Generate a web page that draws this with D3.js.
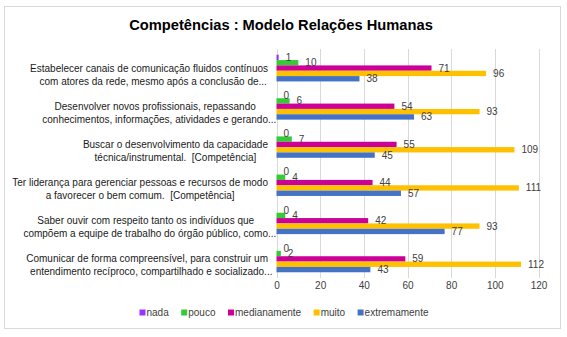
<!DOCTYPE html>
<html>
<head>
<meta charset="utf-8">
<script src="https://cdn.jsdelivr.net/npm/d3@7"></script>
<style>
  html, body { margin: 0; padding: 0; background: #fff; }
  svg { display: block; font-family: "Liberation Sans", Arial, sans-serif; }
  svg text { white-space: pre; }
</style>
</head>
<body>
<svg id="chart" width="567" height="337"></svg>
<script>
// ---- data ----
const categories = [
  ["Estabelecer canais de comunicação fluidos contínuos", "com atores da rede, mesmo após a conclusão de..."],
  ["Desenvolver novos profissionais, repassando", "conhecimentos, informações, atividades e gerando..."],
  ["Buscar o desenvolvimento da capacidade", "técnica/instrumental.  [Competência]"],
  ["Ter liderança para gerenciar pessoas e recursos de modo", "a favorecer o bem comum.  [Competência]"],
  ["Saber ouvir com respeito tanto os indivíduos que", "compõem a equipe de trabalho do órgão público, como..."],
  ["Comunicar de forma compreensível, para construir um", "entendimento recíproco, compartilhado e socializado..."]
];
const seriesNames = ["nada", "pouco", "medianamente", "muito", "extremamente"];
const nada         = [1, 0, 0, 0, 0, 0];
const pouco        = [10, 6, 7, 4, 4, 2];
const medianamente = [71, 54, 55, 44, 42, 59];
const muito        = [96, 93, 109, 111, 93, 112];
const extremamente = [38, 63, 45, 57, 77, 43];
const tickValues   = [0, 20, 40, 60, 80, 100, 120];
const title = "Competências : Modelo Relações Humanas";

const seriesValues = [nada, pouco, medianamente, muito, extremamente];
const colors = ["#9933FF", "#33CC33", "#CC0099", "#FFC000", "#4472C4"];

// ---- layout ----
const svg = d3.select("#chart");
svg.append("rect").attr("x", 4.5).attr("y", 6.5).attr("width", 556).attr("height", 322)
  .attr("fill", "#fff").attr("stroke", "#d9d9d9");

svg.append("text").attr("x", 281).attr("y", 30).attr("text-anchor", "middle")
  .attr("font-size", "14.7px").attr("font-weight", "bold").attr("fill", "#000")
  .text(title);

const x = d3.scaleLinear().domain([0, 120]).range([276.5, 538.5]);
const idx = d3.range(categories.length);
const y = d3.scaleBand().domain(idx).range([49, 278]).paddingInner(0.3).paddingOuter(0.15);
const ys = d3.scaleBand().domain(seriesNames).range([0, y.bandwidth()]);

// gridlines
svg.append("g").selectAll("line").data(tickValues).join("line")
  .attr("x1", d => Math.round(x(d)) + 0.5).attr("x2", d => Math.round(x(d)) + 0.5)
  .attr("y1", 49).attr("y2", 278)
  .attr("stroke", "#d9d9d9");

// axis
const axis = svg.append("g").attr("transform", "translate(0,282)")
  .call(d3.axisBottom(x).tickValues(tickValues).tickSize(0).tickPadding(0));
axis.select(".domain").remove();
axis.selectAll("text").attr("font-size", "10px").attr("fill", "#404040")
  .attr("font-family", "Liberation Sans, Arial, sans-serif").attr("dy", "0.71em");

// bars
const groups = svg.append("g").selectAll("g").data(idx).join("g")
  .attr("transform", i => `translate(0,${y(i)})`);
seriesNames.forEach((s, si) => {
  groups.append("rect")
    .attr("x", x(0))
    .attr("y", ys(s))
    .attr("width", i => x(seriesValues[si][i]) - x(0))
    .attr("height", ys.bandwidth())
    .attr("fill", colors[si]);
});
seriesNames.forEach((s, si) => {
  groups.append("text")
    .attr("x", i => x(seriesValues[si][i]) + 7)
    .attr("y", ys(s) + ys.bandwidth() / 2)
    .attr("dy", "0.35em")
    .attr("font-size", "10px").attr("fill", "#404040")
    .text(i => seriesValues[si][i]);
});

// category labels
const R = 268;
const lab = svg.append("g");
categories.forEach((lines, i) => {
  const c = y(i) + y.bandwidth() / 2;
  const tmp = lines.map(t => {
    const n = lab.append("text").attr("font-size", "10px").text(t.replace(/\.\.\.$/, ""));
    const w = n.node().getComputedTextLength();
    n.remove();
    return w;
  });
  const maxW = d3.max(tmp);
  const bc = R - maxW / 2;
  lines.forEach((t, li) => {
    lab.append("text")
      .attr("x", bc - tmp[li] / 2)
      .attr("y", c + li * 13)
      .attr("dy", "0.35em")
      .attr("font-size", "10px").attr("fill", "#1a1a1a")
      .text(t);
  });
});

// legend
const leg = svg.append("g");
let lx = 0;
seriesNames.forEach((s, si) => {
  const g = leg.append("g").attr("transform", `translate(${lx},0)`);
  g.append("rect").attr("x", 0).attr("y", -3).attr("width", 6).attr("height", 6).attr("fill", colors[si]);
  const t = g.append("text").attr("x", 7).attr("y", 0).attr("dy", "0.35em")
    .attr("font-size", "10px").attr("fill", "#404040").text(s);
  lx += 7 + t.node().getComputedTextLength() + 12.5;
});
const legW = lx - 12.5;
leg.attr("transform", `translate(${284 - legW / 2},312.5)`);
</script>
</body>
</html>
